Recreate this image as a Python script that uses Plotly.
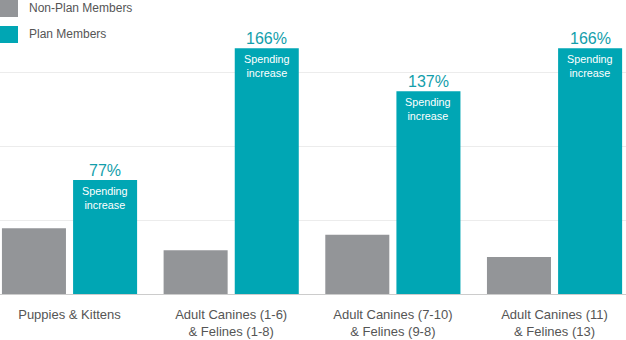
import plotly.graph_objects as go

categories = ["Puppies & Kittens", "Adult Canines (1-6)<br>& Felines (1-8)",
              "Adult Canines (7-10)<br>& Felines (9-8)", "Adult Canines (11)<br>& Felines (13)"]
non_plan = [89, 59, 80, 50]
plan = [154, 332, 274, 332]
increase_labels = ["77%", "166%", "137%", "166%"]

GRAY = "#939598"
TEAL = "#00a6b4"
LABEL_TEAL = "#139eab"
FONT = "Liberation Sans, Arial, Helvetica, sans-serif"
BAR_W = 0.396

fig = go.Figure()
fig.add_trace(go.Bar(x=categories, y=non_plan, name="Non-Plan Members",
                     width=BAR_W, offset=-0.22 - BAR_W / 2,
                     marker=dict(color=GRAY, line=dict(width=0)), hoverinfo="skip"))
fig.add_trace(go.Bar(x=categories, y=plan, name="Plan Members",
                     width=BAR_W, offset=0.22 - BAR_W / 2,
                     marker=dict(color=TEAL, line=dict(width=0)), hoverinfo="skip"))

annotations = []
for c, v, lab in zip(categories, plan, increase_labels):
    annotations.append(dict(x=c, y=v, xref="x", yref="y", text=lab, showarrow=False,
                            xshift=35.5, yanchor="bottom", yshift=-1,
                            font=dict(family=FONT, size=16, color=LABEL_TEAL)))
    annotations.append(dict(x=c, y=v, xref="x", yref="y", text="Spending<br>increase",
                            showarrow=False, xshift=35.5, yanchor="top", yshift=-3,
                            font=dict(family=FONT, size=10.8, color="white")))

# custom legend
legend_items = [("Non-Plan Members", GRAY), ("Plan Members", TEAL)]
shapes = []
for i, (name, col) in enumerate(legend_items):
    top = 0 + i * 26
    shapes.append(dict(type="rect", xref="paper", yref="paper",
                       x0=0, x1=18 / 626, y0=1 - (top + 17) / 294, y1=1 - top / 294,
                       fillcolor=col, line=dict(width=0), layer="above"))
    annotations.append(dict(x=27 / 626, y=1 - (top + 8.5) / 294, xref="paper", yref="paper",
                            text=name, showarrow=False, xanchor="left", yanchor="middle",
                            font=dict(family=FONT, size=12, color="#555555")))

fig.update_layout(
    width=626, height=340,
    margin=dict(l=0, r=0, t=0, b=46),
    paper_bgcolor="white", plot_bgcolor="white",
    barmode="overlay",
    showlegend=False,
    font=dict(family=FONT, size=13, color="#555555"),
    annotations=annotations, shapes=shapes,
    xaxis=dict(range=[-0.43, 3.442], showgrid=False, zeroline=False, showline=False,
               ticks="", ticklabelstandoff=11, tickfont=dict(size=13, color="#555555")),
    yaxis=dict(range=[0, 397.3], dtick=100, showgrid=True, gridcolor="#ececec", gridwidth=1,
               zeroline=True, zerolinecolor="#cccccc", zerolinewidth=1,
               showticklabels=False, ticks="", showline=False),
)

fig.write_html("out.html")
